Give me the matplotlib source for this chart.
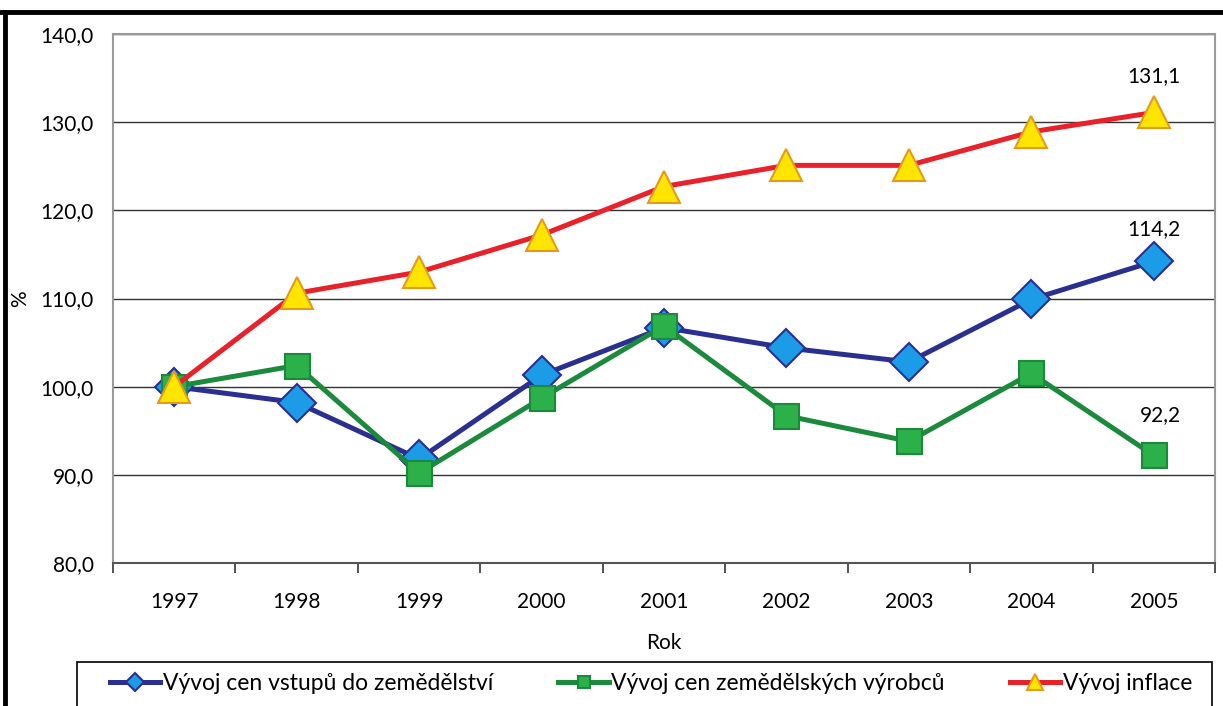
import matplotlib.pyplot as plt
from matplotlib.lines import Line2D
from matplotlib.patches import Rectangle
from matplotlib.ticker import FixedLocator, FuncFormatter

plt.rcParams['font.family'] = ['Lato', 'DejaVu Sans']

years = ['1997', '1998', '1999', '2000', '2001', '2002', '2003', '2004', '2005']
vstupy = [100.0, 98.2, 91.8, 101.3, 106.7, 104.4, 102.8, 109.9, 114.2]
vyrobky = [100.0, 102.4, 90.2, 98.7, 106.9, 96.7, 93.8, 101.5, 92.2]
inflace = [100.0, 110.6, 113.0, 117.2, 122.7, 125.1, 125.1, 128.9, 131.1]

labels = ['Vývoj cen vstupů do zemědělství',
          'Vývoj cen zemědělských výrobců',
          'Vývoj inflace']

W, H = 1223, 706
fig = plt.figure(figsize=(W / 100, H / 100), dpi=100)
ax = fig.add_axes([113 / W, (H - 563) / H, (1215 - 113) / W, (563 - 34) / H])

x = list(range(len(years)))

ax.plot(x, vstupy, color='#2b2f8f', lw=3.6, marker='D', ms=19,
        mfc='#1c9be6', mec='#2b2f8f', mew=1.5, label=labels[0], zorder=3)
ax.plot(x, vyrobky, color='#1b8a3c', lw=3.6, marker='s', ms=18,
        mfc='#2cb04a', mec='#1b8a3c', mew=1.5, label=labels[1], zorder=4)
ax.plot(x, inflace, color='#e8212b', lw=3.6, marker='^', ms=23,
        mfc='#ffe500', mec='#e49a1c', mew=1.5, label=labels[2], zorder=5)

# hodnoty u posledního roku
fmt = lambda v: f'{v:.1f}'.replace('.', ',')
ax.annotate(fmt(inflace[-1]), (x[-1], inflace[-1]), xytext=(0, 19),
            textcoords='offset points', ha='center', va='bottom', fontsize=15)
ax.annotate(fmt(vstupy[-1]), (x[-1], vstupy[-1]), xytext=(0, 16),
            textcoords='offset points', ha='center', va='bottom', fontsize=15)
ax.annotate(fmt(vyrobky[-1]), (x[-1], vyrobky[-1]), xytext=(5, 22),
            textcoords='offset points', ha='center', va='bottom', fontsize=15)

ax.set_xlim(-0.5, len(years) - 0.5)
ax.set_ylim(80, 140)
ax.set_yticks([80, 90, 100, 110, 120, 130, 140])
ax.yaxis.set_major_formatter(FuncFormatter(lambda v, p: fmt(v)))
ax.set_xticks(x)
ax.set_xticklabels(years)
ax.xaxis.set_minor_locator(FixedLocator([i - 0.5 for i in range(len(years) + 1)]))
ax.tick_params(axis='x', which='major', length=0, pad=21, labelsize=15)
ax.tick_params(axis='x', which='minor', length=7, width=1.2, color='#333333')
ax.tick_params(axis='y', length=0, pad=14, labelsize=15)

ax.grid(axis='y', color='#333333', lw=1)
ax.set_axisbelow(True)
for side in ['left', 'right', 'top']:
    ax.spines[side].set_color('#999999')
    ax.spines[side].set_linewidth(1.5)
ax.spines['bottom'].set_color('#555555')
ax.spines['bottom'].set_linewidth(1.5)

ax.set_xlabel('Rok', fontsize=15, labelpad=15)
fig.text(20 / W, (H - 299) / H, '%', rotation=90, fontsize=15, ha='center', va='center')

# legenda - rámeček zvlášť, obsah roztažený na šířku
fig.add_artist(Rectangle((77 / W, -0.05), (1212 - 77) / W, (H - 662) / H + 0.05,
                         transform=fig.transFigure, fill=False, ec='black', lw=1.2))
leg = fig.legend(loc='upper left', bbox_to_anchor=(110 / W, 0, (1192 - 110) / W, (H - 673) / H),
                 mode='expand', ncol=3, fontsize=16.5, frameon=False,
                 markerscale=0.5, handlelength=2.2, handletextpad=0.1,
                 borderpad=0, borderaxespad=0)

# černý rámeček kolem obrázku (nahoře a vlevo)
fig.add_artist(Line2D([0, 1], [(H - 12) / H] * 2, color='black', lw=3.5))
fig.add_artist(Line2D([5 / W] * 2, [0, (H - 12) / H], color='black', lw=3.5))

fig.savefig('out.png', dpi=100)
